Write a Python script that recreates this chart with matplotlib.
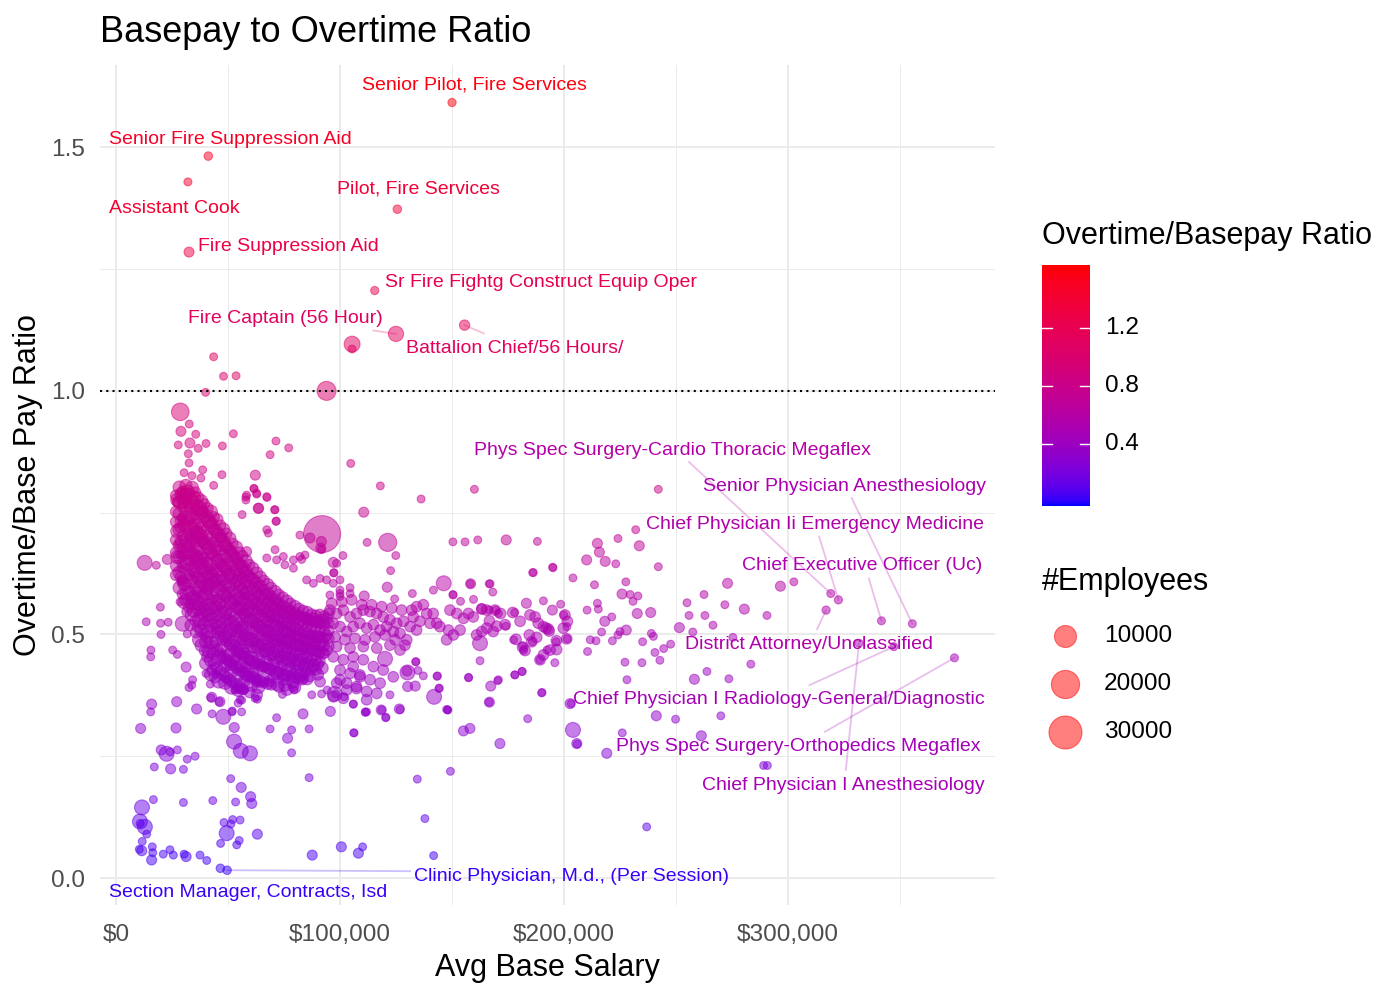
import numpy as np
import matplotlib
matplotlib.use("Agg")
import matplotlib.pyplot as plt
from matplotlib.colors import ListedColormap, Normalize
from matplotlib.ticker import FuncFormatter, FixedLocator

plt.rcParams['font.family'] = ['Liberation Sans', 'DejaVu Sans']

# labelled job titles: avg base salary ($k), overtime/base ratio, employees
label_names = [
    "Senior Pilot, Fire Services", "Senior Fire Suppression Aid", "Pilot, Fire Services",
    "Assistant Cook", "Fire Suppression Aid", "Sr Fire Fightg Construct Equip Oper",
    "Fire Captain (56 Hour)", "Battalion Chief/56 Hours/",
    "Phys Spec Surgery-Cardio Thoracic Megaflex", "Senior Physician Anesthesiology",
    "Chief Physician Ii Emergency Medicine", "Chief Executive Officer (Uc)",
    "District Attorney/Unclassified", "Chief Physician I Radiology-General/Diagnostic",
    "Phys Spec Surgery-Orthopedics Megaflex", "Chief Physician I Anesthesiology",
    "Section Manager, Contracts, Isd", "Clinic Physician, M.d., (Per Session)",
]
label_sal_k = [150.0, 41.2, 125.6, 32.1, 32.6, 115.5, 125.0, 155.6,
               319.1, 355.5, 322.5, 341.7, 317.0, 347.2, 374.3, 331.7, 46.6, 49.6]
label_ratio = [1.592, 1.482, 1.373, 1.429, 1.285, 1.206, 1.117, 1.135,
               0.584, 0.522, 0.571, 0.528, 0.550, 0.475, 0.452, 0.482, 0.020, 0.016]
label_n = [60, 100, 100, 40, 400, 60, 3000, 500,
           40, 40, 60, 40, 60, 40, 40, 40, 100, 100]

# repelled label placement (left edge / centre) and leader start, data units
label_pos = [(109.8, 1.628), (-3.1, 1.517), (98.7, 1.415), (-3.1, 1.374), (36.6, 1.296),
             (120.1, 1.222), (32.1, 1.148), (129.5, 1.088), (159.8, 0.877), (262.1, 0.803),
             (236.6, 0.725), (279.5, 0.641), (254.0, 0.480), (204.0, 0.366), (223.2, 0.269),
             (261.6, 0.189), (-3.1, -0.029), (133.0, 0.004)]
leader_from = [None, None, None, None, None, None, (114.9, 1.124), (164.2, 1.118),
               (255.8, 0.854), (328.4, 0.780), (313.9, 0.701), (336.1, 0.615),
               (313.0, 0.511), (309.6, 0.396), (316.4, 0.300), (325.8, 0.222),
               None, (131.3, 0.014)]

# very large / individually sized job titles
xl_sal_k = [92.0, 94.0, 28.7, 121.3, 105.4]
xl_ratio = [0.706, 1.000, 0.957, 0.689, 1.096]
xl_n = [40000, 6400, 5000, 5500, 3500]

large_pts = [(30.1, 0.783), (12.8, 0.647), (146.3, 0.605), (29.8, 0.522), (204.0, 0.304),
             (47.9, 0.331), (22.6, 0.255), (52.7, 0.280), (55.7, 0.261), (59.8, 0.256),
             (11.6, 0.145), (10.7, 0.116), (12.9, 0.105), (49.4, 0.092), (120.1, 0.450),
             (130.1, 0.422), (142.0, 0.372), (97.6, 0.378), (162.5, 0.482), (36.0, 0.653),
             (36.0, 0.708), (40.5, 0.598)]

med_pts = [
    (29.0, 0.917), (33.0, 0.893), (62.2, 0.827), (110.6, 0.751), (63.5, 0.759), (28.6, 0.719),
    (86.6, 0.698), (91.7, 0.691), (91.4, 0.677), (97.0, 0.648), (22.9, 0.654), (110.8, 0.579),
    (31.3, 0.433), (27.4, 0.772), (174.2, 0.694), (233.6, 0.682), (214.9, 0.687), (215.8, 0.669),
    (210.1, 0.653), (218.4, 0.650), (273.0, 0.605), (296.6, 0.599), (280.5, 0.552), (251.5, 0.514),
    (238.7, 0.545), (232.7, 0.543), (225.9, 0.583), (218.2, 0.527), (227.8, 0.509), (258.2, 0.408),
    (183.2, 0.564), (194.8, 0.550), (163.2, 0.553), (129.9, 0.425), (130.2, 0.393), (133.6, 0.394),
    (167.3, 0.394), (155.1, 0.302), (158.0, 0.307), (171.4, 0.276), (219.1, 0.256), (241.2, 0.333),
    (261.3, 0.292), (87.6, 0.047), (100.6, 0.064), (108.2, 0.051), (15.9, 0.357), (27.1, 0.362),
    (36.0, 0.347), (42.7, 0.371), (46.4, 0.362), (11.0, 0.307), (26.8, 0.308), (52.8, 0.309),
    (76.6, 0.287), (83.5, 0.337), (95.7, 0.342), (126.5, 0.347), (20.2, 0.263), (24.4, 0.224),
    (55.9, 0.186), (60.1, 0.167), (60.6, 0.153), (15.9, 0.037), (31.3, 0.044), (63.1, 0.090),
    (11.5, 0.056), (121.1, 0.597), (158.3, 0.604), (118.4, 0.345), (166.7, 0.361), (202.7, 0.358),
    (205.7, 0.276), (63.7, 0.759), (58.3, 0.670), (31.6, 0.547),
]

small_pts = [
    (105.4, 1.086), (43.6, 1.070), (48.0, 1.030), (53.6, 1.031), (40.0, 0.997),
    (32.7, 0.932), (35.6, 0.911), (52.4, 0.912), (27.8, 0.889), (36.7, 0.882), (40.2, 0.892),
    (47.5, 0.887), (71.4, 0.897), (77.1, 0.883), (68.8, 0.869), (32.3, 0.871), (104.8, 0.851),
    (32.6, 0.852), (30.4, 0.832), (33.9, 0.826), (38.7, 0.838), (37.9, 0.821), (47.3, 0.828),
    (43.6, 0.806), (61.6, 0.799), (62.8, 0.788), (58.0, 0.782), (67.4, 0.781), (118.0, 0.805),
    (136.2, 0.778), (70.8, 0.756), (56.3, 0.746), (71.6, 0.733), (29.3, 0.739), (82.1, 0.704),
    (112.1, 0.689), (124.9, 0.662), (101.3, 0.662), (97.2, 0.626), (122.6, 0.631), (18.0, 0.642),
    (28.9, 0.636), (141.7, 0.591), (132.3, 0.584), (104.5, 0.596), (19.8, 0.556), (13.5, 0.526),
    (19.9, 0.523), (23.3, 0.525), (20.1, 0.500), (31.8, 0.501), (15.6, 0.468), (15.5, 0.454),
    (25.3, 0.468), (27.4, 0.459), (40.2, 0.420),
    (160.0, 0.798), (150.4, 0.690), (155.8, 0.690), (161.5, 0.694), (188.1, 0.691), (186.3, 0.627),
    (195.1, 0.637), (242.1, 0.798), (232.0, 0.715), (224.1, 0.697), (223.1, 0.645), (242.1, 0.639),
    (204.0, 0.616),
    (302.6, 0.608), (262.5, 0.582), (271.8, 0.561), (290.6, 0.539), (254.9, 0.565), (255.8, 0.539),
    (262.9, 0.539), (266.5, 0.519), (257.5, 0.505), (227.6, 0.608), (230.8, 0.568), (233.0, 0.579),
    (229.5, 0.582), (221.3, 0.536), (224.1, 0.499), (225.0, 0.506), (216.8, 0.505), (221.6, 0.487),
    (235.1, 0.485), (239.0, 0.502), (239.9, 0.496), (240.6, 0.463), (244.5, 0.471), (247.6, 0.480),
    (242.8, 0.447), (227.2, 0.443), (234.8, 0.442), (228.1, 0.407), (263.8, 0.424), (273.6, 0.409),
    (283.4, 0.439), (275.4, 0.494), (158.2, 0.604), (166.6, 0.604), (150.5, 0.581), (153.8, 0.568),
    (159.6, 0.572), (169.5, 0.550), (170.7, 0.543), (166.6, 0.550), (190.8, 0.569), (198.5, 0.562),
    (199.9, 0.540), (201.3, 0.516), (178.0, 0.545), (174.1, 0.517), (177.5, 0.489), (181.5, 0.476),
    (182.0, 0.467), (192.4, 0.468), (195.9, 0.442), (196.5, 0.485), (185.9, 0.485), (189.2, 0.448),
    (201.4, 0.491), (210.5, 0.465), (210.3, 0.550), (214.9, 0.564), (215.3, 0.552), (213.6, 0.602),
    (211.7, 0.489), (214.3, 0.487), (133.8, 0.444), (143.3, 0.414), (144.2, 0.389), (157.4, 0.411),
    (162.5, 0.446), (170.7, 0.407), (166.6, 0.361), (178.0, 0.417), (181.3, 0.424), (190.0, 0.380),
    (148.1, 0.345), (126.8, 0.346), (203.2, 0.358), (183.8, 0.327), (205.9, 0.275), (226.0, 0.298),
    (249.8, 0.326), (270.0, 0.333), (289.1, 0.231), (290.8, 0.231), (149.3, 0.219), (134.5, 0.203),
    (86.2, 0.206), (137.9, 0.122), (236.9, 0.105), (141.8, 0.046), (110.1, 0.064),
    (15.5, 0.341), (51.8, 0.341), (56.1, 0.341), (54.5, 0.359), (56.1, 0.365), (53.1, 0.386),
    (56.8, 0.384), (68.8, 0.306), (71.7, 0.329), (78.4, 0.304), (86.2, 0.306), (106.3, 0.298),
    (111.3, 0.341), (118.6, 0.345), (120.4, 0.329), (147.6, 0.346), (24.1, 0.259), (27.4, 0.263),
    (17.1, 0.228), (30.1, 0.223), (31.8, 0.244), (35.3, 0.250), (78.4, 0.257), (51.2, 0.204),
    (16.7, 0.161), (30.1, 0.155), (43.2, 0.159), (53.4, 0.156), (13.7, 0.090), (11.7, 0.075),
    (10.4, 0.059), (16.2, 0.064), (16.4, 0.052), (21.1, 0.049), (24.1, 0.058), (25.6, 0.047),
    (30.4, 0.049), (37.5, 0.047), (40.5, 0.036), (48.2, 0.114), (52.1, 0.120), (55.4, 0.119),
    (51.3, 0.111), (46.7, 0.071), (53.9, 0.068), (55.0, 0.077), (62.1, 0.369), (10.8, 0.112),
    (34.2, 0.407), (33.8, 0.396), (32.6, 0.391), (42.1, 0.398), (44.6, 0.418), (49.1, 0.408),
    (42.4, 0.370), (46.1, 0.362), (42.9, 0.337), (51.9, 0.343), (55.4, 0.366), (54.5, 0.387),
    (57.5, 0.386), (63.1, 0.367), (74.3, 0.377), (79.5, 0.386), (87.4, 0.376), (91.8, 0.378),
    (94.3, 0.386), (98.1, 0.378), (101.8, 0.372), (105.9, 0.357), (111.9, 0.341),
    (150.4, 0.582), (167.0, 0.604), (168.2, 0.587), (186.0, 0.627), (194.9, 0.638), (98.5, 0.646),
    (97.3, 0.627), (100.0, 0.591), (100.0, 0.578), (124.4, 0.573), (133.9, 0.444), (134.8, 0.426),
    (137.2, 0.415), (143.5, 0.415), (144.3, 0.390), (122.3, 0.376), (120.5, 0.330), (111.3, 0.340),
    (106.0, 0.357), (106.1, 0.298), (148.1, 0.345), (157.4, 0.412), (170.4, 0.405), (178.1, 0.417),
    (181.3, 0.424), (190.2, 0.381),
    (58.3, 0.786), (62.8, 0.790), (67.3, 0.783), (61.6, 0.800), (58.0, 0.776), (71.0, 0.756),
    (71.4, 0.732), (67.3, 0.715), (68.0, 0.708), (71.0, 0.674), (67.3, 0.657), (71.7, 0.653),
    (75.4, 0.643), (79.2, 0.636), (82.9, 0.654), (84.4, 0.663), (91.8, 0.674), (79.2, 0.653),
    (82.1, 0.660), (74.7, 0.660), (91.1, 0.615), (94.0, 0.612), (97.0, 0.605), (100.0, 0.612),
    (88.1, 0.605), (85.1, 0.612), (104.5, 0.584), (100.0, 0.584), (95.5, 0.581), (27.8, 0.684),
    (28.9, 0.608), (28.6, 0.567), (28.6, 0.663), (29.3, 0.612),
]

# the dense band of jobs: salary column ($k), employees per job, ratios read down that column
band_cols_k = [26.8, 28.3, 29.6, 31.2, 32.5, 33.9, 35.4, 36.6, 38.1, 39.5,
               40.8, 42.4, 43.7, 45.1, 46.6, 48.0, 49.3, 50.9, 52.2, 53.8,
               55.1, 56.5, 58.0, 59.6, 61.2, 62.9, 64.4, 66.1, 67.8, 69.3,
               71.0, 72.8, 74.5, 76.3, 78.0, 79.9, 81.7, 83.6, 85.4, 87.3,
               89.1, 91.0, 93.0, 95.0]
band_n = [800, 1500, 500, 1200, 700, 1800, 600, 1000, 1400, 500,
          900, 1600, 700, 1100, 600, 1300, 800, 1000, 500, 1200,
          900, 700, 1400, 600, 1000, 800, 1100, 500, 900, 700,
          1200, 600, 800, 1000, 500, 900, 700, 600, 800, 500,
          700, 600, 500, 600]
band_ratios = [
    [0.785, 0.752, 0.731, 0.694, 0.668, 0.641, 0.622],
    [0.802, 0.771, 0.748, 0.716, 0.683, 0.659, 0.627, 0.596],
    [0.794, 0.762, 0.739, 0.703, 0.677, 0.645, 0.611, 0.583],
    [0.806, 0.778, 0.751, 0.722, 0.694, 0.668, 0.634, 0.602, 0.571],
    [0.789, 0.767, 0.735, 0.709, 0.681, 0.652, 0.623, 0.588, 0.556],
    [0.801, 0.773, 0.744, 0.718, 0.697, 0.664, 0.637, 0.609, 0.574, 0.541],
    [0.792, 0.758, 0.736, 0.705, 0.679, 0.653, 0.626, 0.593, 0.562, 0.528],
    [0.781, 0.753, 0.727, 0.698, 0.672, 0.644, 0.615, 0.587, 0.551, 0.517],
    [0.774, 0.749, 0.719, 0.692, 0.661, 0.636, 0.607, 0.576, 0.545, 0.508, 0.478],
    [0.768, 0.738, 0.713, 0.684, 0.657, 0.629, 0.598, 0.569, 0.536, 0.501, 0.466],
    [0.759, 0.733, 0.702, 0.678, 0.648, 0.621, 0.593, 0.561, 0.527, 0.494, 0.455],
    [0.752, 0.724, 0.696, 0.669, 0.642, 0.613, 0.584, 0.553, 0.519, 0.483, 0.447, 0.418],
    [0.741, 0.716, 0.689, 0.661, 0.633, 0.607, 0.576, 0.546, 0.512, 0.476, 0.439],
    [0.736, 0.708, 0.681, 0.654, 0.628, 0.598, 0.571, 0.539, 0.504, 0.468, 0.431],
    [0.724, 0.699, 0.674, 0.646, 0.619, 0.592, 0.563, 0.531, 0.497, 0.461, 0.425],
    [0.716, 0.691, 0.663, 0.639, 0.613, 0.584, 0.556, 0.524, 0.491, 0.455, 0.418],
    [0.707, 0.682, 0.657, 0.631, 0.604, 0.578, 0.549, 0.517, 0.486, 0.449, 0.412],
    [0.698, 0.672, 0.648, 0.624, 0.598, 0.571, 0.542, 0.511, 0.479, 0.444, 0.406],
    [0.687, 0.664, 0.641, 0.615, 0.589, 0.563, 0.536, 0.506, 0.472, 0.438, 0.401],
    [0.679, 0.656, 0.632, 0.609, 0.583, 0.557, 0.529, 0.499, 0.467, 0.433, 0.397],
    [0.668, 0.645, 0.623, 0.601, 0.577, 0.551, 0.523, 0.494, 0.461, 0.428, 0.392],
    [0.661, 0.637, 0.616, 0.594, 0.569, 0.544, 0.518, 0.488, 0.457, 0.423, 0.388],
    [0.651, 0.629, 0.608, 0.586, 0.563, 0.538, 0.512, 0.483, 0.452, 0.419],
    [0.643, 0.621, 0.601, 0.579, 0.557, 0.533, 0.507, 0.479, 0.448, 0.414, 0.381],
    [0.636, 0.613, 0.594, 0.572, 0.551, 0.527, 0.503, 0.474, 0.444, 0.411],
    [0.627, 0.606, 0.586, 0.566, 0.545, 0.522, 0.498, 0.471, 0.441, 0.408, 0.376],
    [0.618, 0.599, 0.579, 0.559, 0.539, 0.517, 0.494, 0.466, 0.437, 0.404],
    [0.611, 0.592, 0.573, 0.554, 0.533, 0.512, 0.489, 0.463, 0.434, 0.401],
    [0.603, 0.584, 0.566, 0.548, 0.528, 0.507, 0.485, 0.459, 0.431, 0.399],
    [0.596, 0.578, 0.561, 0.542, 0.523, 0.503, 0.481, 0.456, 0.428, 0.397],
    [0.588, 0.571, 0.554, 0.537, 0.519, 0.499, 0.477, 0.452, 0.425],
    [0.582, 0.565, 0.549, 0.532, 0.514, 0.495, 0.474, 0.449, 0.423, 0.392],
    [0.576, 0.559, 0.543, 0.527, 0.509, 0.491, 0.471, 0.446, 0.419],
    [0.569, 0.554, 0.538, 0.522, 0.505, 0.487, 0.467, 0.443, 0.417, 0.387],
    [0.564, 0.549, 0.533, 0.518, 0.501, 0.483, 0.464, 0.441, 0.414],
    [0.558, 0.544, 0.529, 0.513, 0.497, 0.479, 0.461, 0.438, 0.412, 0.391],
    [0.553, 0.539, 0.524, 0.509, 0.493, 0.476, 0.457, 0.436, 0.411],
    [0.549, 0.535, 0.521, 0.506, 0.489, 0.473, 0.455, 0.433, 0.409],
    [0.546, 0.531, 0.517, 0.502, 0.487, 0.471, 0.452, 0.431, 0.408],
    [0.542, 0.528, 0.514, 0.499, 0.484, 0.468, 0.449, 0.428],
    [0.539, 0.525, 0.511, 0.497, 0.482, 0.466, 0.447, 0.427],
    [0.541, 0.523, 0.509, 0.494, 0.479, 0.463, 0.445],
    [0.538, 0.521, 0.507, 0.493, 0.477, 0.461],
    [0.543, 0.524, 0.508, 0.492, 0.476],
]

# second pass through the same band, jobs lying between the columns above
fill_cols_k = [27.5, 29.0, 30.4, 31.9, 33.2, 34.7, 36.0, 37.4, 38.8, 40.2,
               41.6, 43.0, 44.4, 45.9, 47.3, 48.7, 50.1, 51.6, 53.0, 54.5,
               56.0, 57.3, 58.8, 60.4, 62.0, 63.6, 65.3, 67.0, 68.5, 70.2,
               72.0, 73.7, 75.4, 77.2, 79.0, 80.8, 82.6, 84.5, 86.4, 88.2,
               90.1, 92.0, 94.0]
fill_n = [2000, 900, 1500, 3000, 700, 1800, 1200, 2500, 800, 1600,
          2200, 700, 1400, 2600, 900, 1700, 1100, 2300, 800, 1500,
          2000, 1000, 1300, 2400, 700, 1600, 1200, 1900, 800, 1400,
          1700, 900, 1300, 2100, 800, 1200, 1500, 700, 1100, 1400,
          900, 1200, 800]
fill_ratios = [
    [0.776, 0.712, 0.659],
    [0.789, 0.733, 0.691, 0.618],
    [0.772, 0.725, 0.664, 0.604, 0.566],
    [0.791, 0.738, 0.683, 0.647, 0.585],
    [0.759, 0.702, 0.671, 0.614, 0.563, 0.519],
    [0.781, 0.725, 0.689, 0.632, 0.578, 0.549],
    [0.766, 0.711, 0.662, 0.618, 0.571, 0.505],
    [0.758, 0.703, 0.655, 0.596, 0.563, 0.531, 0.489],
    [0.752, 0.694, 0.646, 0.614, 0.556, 0.522],
    [0.744, 0.688, 0.637, 0.583, 0.549, 0.485, 0.441],
    [0.731, 0.679, 0.628, 0.601, 0.541, 0.507, 0.466],
    [0.728, 0.665, 0.626, 0.571, 0.534, 0.462, 0.427],
    [0.714, 0.673, 0.612, 0.557, 0.523, 0.486, 0.414],
    [0.703, 0.651, 0.609, 0.566, 0.514, 0.452, 0.405],
    [0.697, 0.642, 0.599, 0.547, 0.508, 0.473],
    [0.683, 0.638, 0.581, 0.543, 0.497, 0.437, 0.401],
    [0.676, 0.623, 0.586, 0.529, 0.492, 0.458],
    [0.664, 0.617, 0.565, 0.524, 0.483, 0.426, 0.392],
    [0.657, 0.603, 0.571, 0.516, 0.477, 0.451],
    [0.642, 0.611, 0.556, 0.507, 0.472, 0.418, 0.386],
    [0.639, 0.588, 0.553, 0.512, 0.466, 0.436],
    [0.627, 0.583, 0.541, 0.497, 0.461, 0.404],
    [0.618, 0.574, 0.546, 0.491, 0.455, 0.427],
    [0.611, 0.567, 0.529, 0.489, 0.451, 0.398],
    [0.598, 0.562, 0.524, 0.486, 0.438, 0.413],
    [0.594, 0.553, 0.518, 0.476, 0.446, 0.392],
    [0.583, 0.548, 0.509, 0.479, 0.433, 0.407],
    [0.577, 0.539, 0.507, 0.468, 0.442],
    [0.569, 0.536, 0.497, 0.471, 0.429, 0.404],
    [0.562, 0.528, 0.494, 0.462, 0.437],
    [0.559, 0.523, 0.489, 0.466, 0.421, 0.398],
    [0.551, 0.517, 0.491, 0.456, 0.432],
    [0.547, 0.514, 0.482, 0.458, 0.415, 0.396],
    [0.543, 0.508, 0.485, 0.451, 0.427],
    [0.538, 0.506, 0.477, 0.453, 0.418, 0.401],
    [0.536, 0.501, 0.479, 0.446, 0.425],
    [0.531, 0.498, 0.472, 0.448, 0.417],
    [0.535, 0.495, 0.474, 0.441, 0.422],
    [0.527, 0.493, 0.468, 0.443, 0.415],
    [0.531, 0.489, 0.471, 0.437],
    [0.526, 0.496, 0.465, 0.439, 0.418],
    [0.529, 0.486, 0.462, 0.431],
    [0.532, 0.498, 0.468],
]

# band continuation past $95k
band_extra = [
    (95.5, 0.550), (98.5, 0.543), (101.5, 0.550), (104.5, 0.536), (107.4, 0.543), (110.4, 0.550),
    (113.4, 0.547), (116.4, 0.543), (119.3, 0.536), (122.3, 0.530), (125.3, 0.523), (128.3, 0.527),
    (97.0, 0.523), (100.0, 0.516), (103.0, 0.506), (105.9, 0.516), (108.9, 0.523), (111.9, 0.513),
    (114.9, 0.520), (117.9, 0.509), (120.8, 0.516), (123.8, 0.506), (126.8, 0.502), (97.8, 0.495),
    (102.2, 0.489), (106.7, 0.492), (111.2, 0.489), (115.6, 0.495), (120.1, 0.499), (124.6, 0.489),
    (129.0, 0.478), (98.5, 0.475), (104.5, 0.472), (110.4, 0.475), (116.4, 0.472), (122.3, 0.478),
    (126.8, 0.468), (96.3, 0.564), (100.8, 0.567), (105.2, 0.571), (109.7, 0.561), (114.1, 0.561),
    (118.6, 0.557), (123.1, 0.554), (127.5, 0.550), (132.0, 0.550),
    (97.0, 0.454), (101.5, 0.448), (105.9, 0.454), (110.4, 0.448), (114.9, 0.434), (119.3, 0.427),
    (123.8, 0.413), (100.0, 0.427), (104.5, 0.420), (108.9, 0.417), (113.4, 0.407), (117.9, 0.400),
    (98.5, 0.400), (103.0, 0.386), (107.4, 0.393), (111.9, 0.383), (116.4, 0.379), (97.0, 0.372),
    (101.5, 0.369),
    (91.1, 0.403), (82.9, 0.407), (79.2, 0.394), (74.7, 0.407), (70.2, 0.413), (65.8, 0.434),
    (61.3, 0.421), (62.8, 0.403), (58.3, 0.413), (50.9, 0.437), (47.9, 0.451), (53.1, 0.448),
    (57.6, 0.434), (100.0, 0.407), (103.0, 0.400), (107.4, 0.389), (111.9, 0.366), (108.9, 0.413),
    (105.9, 0.434),
    (170.0, 0.517), (173.7, 0.520), (165.5, 0.513), (163.3, 0.506), (161.0, 0.499), (168.4, 0.506),
    (166.7, 0.528), (171.7, 0.543), (169.2, 0.550), (165.5, 0.550), (163.3, 0.552), (159.5, 0.536),
    (157.3, 0.543), (155.1, 0.533), (152.1, 0.543), (149.1, 0.550), (153.6, 0.509), (150.6, 0.499),
    (147.6, 0.489), (148.4, 0.509), (144.6, 0.516), (143.2, 0.523), (140.2, 0.523), (138.7, 0.543),
    (137.2, 0.561), (134.2, 0.557), (132.7, 0.536), (131.3, 0.516), (129.8, 0.489), (134.2, 0.509),
    (135.7, 0.527), (141.6, 0.543),
    (178.6, 0.490), (181.5, 0.474), (182.6, 0.467), (184.5, 0.499), (187.8, 0.494), (185.6, 0.485),
    (190.8, 0.516), (193.0, 0.511), (193.8, 0.468), (196.7, 0.469), (196.6, 0.487), (189.3, 0.448),
    (190.8, 0.458), (201.2, 0.491), (199.7, 0.513), (201.5, 0.527), (200.4, 0.540), (177.1, 0.545),
    (180.4, 0.527), (184.8, 0.540), (187.1, 0.536), (188.5, 0.523), (192.0, 0.513), (193.4, 0.507),
]

# ggplot-like blue -> red gradient, interpolated in Lab
def to_lab(c):
    c = np.asarray(c, float)
    lin = np.where(c <= 0.04045, c / 12.92, ((c + 0.055) / 1.055) ** 2.4)
    m = np.array([[0.4124, 0.3576, 0.1805], [0.2126, 0.7152, 0.0722], [0.0193, 0.1192, 0.9505]])
    xyz = m @ lin / np.array([0.95047, 1.0, 1.08883])
    f = np.where(xyz > 0.008856, np.cbrt(xyz), 7.787 * xyz + 16 / 116)
    return np.array([116 * f[1] - 16, 500 * (f[0] - f[1]), 200 * (f[1] - f[2])])


def to_rgb(lab):
    fy = (lab[0] + 16) / 116
    f = np.array([fy + lab[1] / 500, fy, fy - lab[2] / 200])
    xyz = np.where(f ** 3 > 0.008856, f ** 3, (f - 16 / 116) / 7.787) * np.array([0.95047, 1, 1.08883])
    minv = np.array([[3.2406, -1.5372, -0.4986], [-0.9689, 1.8758, 0.0415], [0.0557, -0.2040, 1.0570]])
    lin = np.clip(minv @ xyz, 0, 1)
    return np.clip(np.where(lin <= 0.0031308, 12.92 * lin, 1.055 * lin ** (1 / 2.4) - 0.055), 0, 1)


lo, hi = to_lab([0, 0, 1]), to_lab([1, 0, 0])
cmap = ListedColormap([to_rgb(lo + t * (hi - lo)) for t in np.linspace(0, 1, 256)])
norm = Normalize(vmin=-0.03, vmax=1.635)


def diam_px(n):
    return 7 + 15 * np.sqrt(np.asarray(n, float) / 1e4)


fig = plt.figure(figsize=(14, 10), dpi=100)
ax = fig.add_axes([100 / 1400, 95 / 1000, 895 / 1400, 840 / 1000])
ax.set_xlim(-7.14, 392.4)
ax.set_ylim(-0.0554, 1.669)
for s in ax.spines.values():
    s.set_visible(False)
ax.xaxis.set_major_locator(FixedLocator([0, 100, 200, 300]))
ax.xaxis.set_minor_locator(FixedLocator([50, 150, 250, 350]))
ax.yaxis.set_major_locator(FixedLocator([0, 0.5, 1.0, 1.5]))
ax.yaxis.set_minor_locator(FixedLocator([0.25, 0.75, 1.25]))
ax.grid(which='major', color='#EBEBEB', lw=1.4)
ax.grid(which='minor', color='#EBEBEB', lw=0.7)
ax.set_axisbelow(True)
ax.xaxis.set_major_formatter(FuncFormatter(lambda v, p: f"${v * 1000:,.0f}"))
ax.yaxis.set_major_formatter(FuncFormatter(lambda v, p: f"{v:.1f}"))
ax.tick_params(which='both', length=0, labelsize=17.6, labelcolor='#4D4D4D')
ax.tick_params(axis='x', pad=13.5)
ax.tick_params(axis='y', pad=10.8)


def draw(sal, ratio, n):
    ratio = np.asarray(ratio, float)
    d = diam_px(np.broadcast_to(n, ratio.shape))
    cols = cmap(norm(ratio))
    cols[:, 3] = 0.5
    ax.scatter(sal, ratio, s=(d * 0.72) ** 2, c=cols, edgecolors=cols, linewidths=0.8, zorder=2)


def flatten(cols_k, sizes, ratios):
    xs = [c for c, rs in zip(cols_k, ratios) for _ in rs]
    ys = [r for rs in ratios for r in rs]
    ns = [n for n, rs in zip(sizes, ratios) for _ in rs]
    return xs, ys, ns


draw(*flatten(band_cols_k, band_n, band_ratios))
draw(*flatten(fill_cols_k, fill_n, fill_ratios))
draw([p[0] for p in band_extra], [p[1] for p in band_extra], 600)
draw([p[0] for p in small_pts], [p[1] for p in small_pts], 30)
draw([p[0] for p in med_pts], [p[1] for p in med_pts], 400)
draw([p[0] for p in large_pts], [p[1] for p in large_pts], 2800)
draw(xl_sal_k, xl_ratio, xl_n)
draw(label_sal_k, label_ratio, label_n)

ax.axhline(1.0, color='black', ls=(0, (1, 2)), lw=1.5, zorder=3)

for name, x, y, pos, start in zip(label_names, label_sal_k, label_ratio, label_pos, leader_from):
    col = cmap(norm(y))
    if start is not None:
        ax.plot([start[0], x], [start[1], y], color=col, alpha=0.25, lw=1.3, zorder=3)
    ax.text(pos[0], pos[1], name, color=col, fontsize=14.0, ha='left', va='center', zorder=4)

# overlay in pixel units for titles and legends
ov = fig.add_axes([0, 0, 1, 1])
ov.set_xlim(0, 1400)
ov.set_ylim(1000, 0)
ov.axis('off')
ov.text(100, 32, "Basepay to Overtime Ratio", fontsize=26, ha='left', va='center')
ov.text(547, 968, "Avg Base Salary", fontsize=22, ha='center', va='center')
ov.text(28, 485, "Overtime/Base Pay Ratio", fontsize=22, ha='center', va='center', rotation=90)

ov.text(1042, 236, "Overtime/Basepay Ratio", fontsize=22, ha='left', va='center')
cax = fig.add_axes([1042 / 1400, 1 - 506 / 1000, 48 / 1400, 241 / 1000])
grad = np.linspace(-0.03, 1.635, 400)[:, None]
cax.imshow(grad, aspect='auto', cmap=cmap, norm=norm, origin='lower', extent=[0, 1, -0.03, 1.635])
cax.set_xlim(0, 1)
cax.set_ylim(-0.03, 1.635)
cax.axis('off')
for t in [0.4, 0.8, 1.2]:
    cax.plot([0, 0.2], [t, t], color='white', lw=1)
    cax.plot([0.8, 1], [t, t], color='white', lw=1)
    cax.text(1.31, t, f"{t:.1f}", fontsize=17.6, ha='left', va='center')

ov.text(1042, 582, "#Employees", fontsize=22, ha='left', va='center')
legend_n = [10000, 20000, 30000]
for n, yy in zip(legend_n, [636, 684, 732]):
    ov.scatter([1065], [yy], s=(diam_px(n) * 0.72) ** 2, color=(1, 0, 0, 0.5),
               edgecolors=(1, 0, 0, 0.5), linewidths=0.8)
    ov.text(1104, yy, str(n), fontsize=17.6, ha='left', va='center')

fig.savefig("out.png", dpi=100)
